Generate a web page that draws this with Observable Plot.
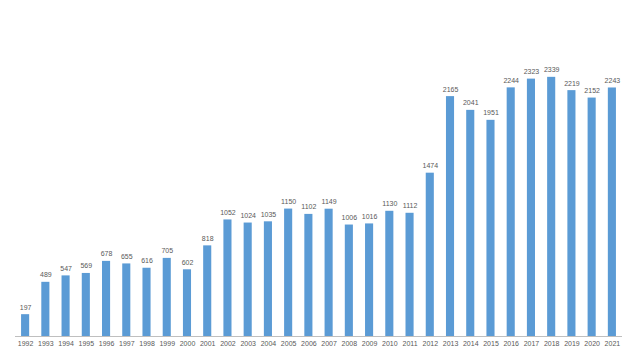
<!DOCTYPE html>
<html><head><meta charset="utf-8">
<script src="https://cdn.jsdelivr.net/npm/d3@7"></script>
<script src="https://cdn.jsdelivr.net/npm/@observablehq/plot@0.6"></script>
<style>body{margin:0;background:#fff;font-family:Calibri,"Liberation Sans",Arial,sans-serif}</style>
</head><body><div id="chart"></div>
<script>
const years = ["1992","1993","1994","1995","1996","1997","1998","1999","2000","2001","2002","2003","2004","2005","2006","2007","2008","2009","2010","2011","2012","2013","2014","2015","2016","2017","2018","2019","2020","2021"];
const values = [197,489,547,569,678,655,616,705,602,818,1052,1024,1035,1150,1102,1149,1006,1016,1130,1112,1474,2165,2041,1951,2244,2323,2339,2219,2152,2243];
const data = years.map((y,i)=>({year:y, value:values[i]}));
const chart = Plot.plot({
  width: 640, height: 360,
  marginTop: 59, marginBottom: 24, marginLeft: 15, marginRight: 18,
  style: {fontFamily: '"Liberation Sans",Arial,sans-serif', fontSize: "7px", color: "#595959", background: "#fff"},
  x: {domain: years, paddingInner: 0.6, paddingOuter: 0.3, round: false, label: null, tickSize: 0, tickPadding: 5},
  y: {domain: [0, 2500], axis: null},
  marks: [
    Plot.barY(data, {x: "year", y: "value", fill: "#5B9BD5"}),
    Plot.ruleY([0], {stroke: "#bfbfbf", strokeWidth: 1}),
    Plot.text(data, {x: "year", y: "value", text: d => String(d.value), lineAnchor: "bottom", dy: -5, fill: "#595959", fontSize: 7})
  ]
});
document.getElementById("chart").appendChild(chart);
</script></body></html>
